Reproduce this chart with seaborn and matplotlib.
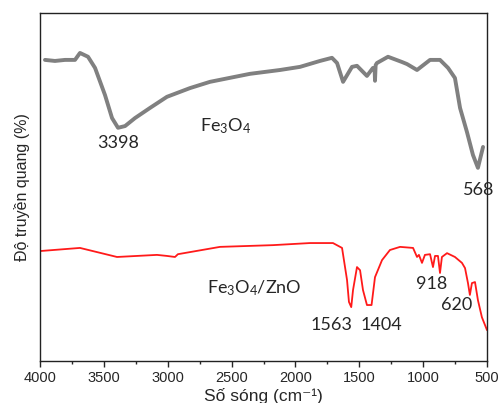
import matplotlib
matplotlib.use("Agg")
import matplotlib.pyplot as plt
from matplotlib.ticker import MultipleLocator
import pandas as pd
import seaborn as sns

# wavenumber (cm-1) and transmittance (arbitrary %)
fe3o4_wn = [3961, 3883, 3804, 3726, 3687, 3624, 3569, 3491, 3436, 3389, 3334, 3256,
            3139, 3006, 2826, 2669, 2356, 2121, 1964, 1808, 1714, 1674, 1627, 1557,
            1518, 1440, 1393, 1380, 1377, 1372, 1362, 1275, 1166, 1126, 1048, 946,
            868, 805, 751, 711, 657, 610, 571, 531]
fe3o4_t = [86.5, 86.2, 86.5, 86.5, 88.5, 87.4, 84.2, 76.4, 69.8, 67.0, 67.5, 69.8,
           72.7, 75.9, 78.4, 80.2, 82.5, 83.6, 84.5, 86.2, 87.1, 85.6, 80.2, 84.5,
           84.8, 81.9, 84.2, 84.0, 80.5, 85.0, 85.6, 87.4, 85.9, 85.3, 83.6, 86.5,
           86.5, 84.2, 81.3, 72.7, 65.8, 59.2, 55.5, 61.5]

zno_wn = [4000, 3687, 3397, 3084, 3006, 2943, 2920, 2591, 2176, 1886, 1706, 1635,
          1596, 1581, 1563, 1549, 1518, 1494, 1471, 1440, 1404, 1377, 1322, 1260,
          1181, 1079, 1048, 1033, 1009, 986, 946, 923, 907, 884, 868, 853, 813,
          751, 696, 672, 649, 634, 618, 594, 571, 540, 500]
zno_t = [31.6, 32.5, 29.9, 30.5, 30.2, 29.9, 30.7, 32.8, 33.3, 33.9, 33.9, 32.5,
         23.3, 17.0, 15.5, 20.4, 27.0, 26.1, 20.4, 16.1, 16.1, 24.1, 29.0, 31.9,
         32.8, 32.5, 29.9, 30.5, 28.2, 30.5, 30.7, 27.0, 30.2, 30.2, 25.3, 29.9,
         31.0, 29.9, 28.2, 26.7, 22.4, 19.0, 22.4, 22.7, 17.5, 12.6, 8.9]

peak_labels = ["3398", "568", "1563", "1404", "918", "620"]

df1 = pd.DataFrame({"wn": fe3o4_wn, "t": fe3o4_t})
df2 = pd.DataFrame({"wn": zno_wn, "t": zno_t})

sns.set_style("white")
plt.rcParams['font.family'] = ['Liberation Sans', 'DejaVu Sans']
plt.rcParams['mathtext.fontset'] = 'custom'
plt.rcParams['mathtext.rm'] = 'Lato'
plt.rcParams['mathtext.it'] = 'Lato:italic'

fig = plt.figure(figsize=(5, 4.03), dpi=100)
ax = fig.add_axes([0.08, 0.104, 0.894, 0.864])

sns.lineplot(data=df1, x="wn", y="t", color="#808080", lw=2.8, ax=ax, sort=False,
             solid_joinstyle='round', solid_capstyle='round')
sns.lineplot(data=df2, x="wn", y="t", color="#ff1a1a", lw=1.3, ax=ax, sort=False,
             solid_joinstyle='round')

ax.set_xlim(4000, 500)
ax.set_ylim(0, 100)
ax.xaxis.set_major_locator(MultipleLocator(500))
ax.xaxis.set_minor_locator(MultipleLocator(250))
ax.tick_params(axis='x', which='major', direction='out', length=4, width=1,
               bottom=True, labelsize=10.5, pad=3)
ax.tick_params(axis='x', which='minor', direction='out', length=2.5, width=1, bottom=True)
ax.set_yticks([])
for s in ax.spines.values():
    s.set_color('#222222')
    s.set_linewidth(1.0)

ax.set_xlabel("Số sóng (cm⁻¹)", fontsize=12.5, labelpad=2)
ax.set_ylabel("Độ truyền quang (%)", fontsize=11.5, labelpad=7)

lab = dict(fontsize=13, family='Lato', ha='center', va='center')
ax.text(3385, 62.5, peak_labels[0], **lab)
ax.text(568, 49, peak_labels[1], **lab)
ax.text(1720, 10.5, peak_labels[2], **lab)
ax.text(1330, 10.5, peak_labels[3], **lab)
ax.text(935, 22, peak_labels[4], **lab)
ax.text(735, 16, peak_labels[5], **lab)
ax.text(2550, 67.5, r"Fe$_3$O$_4$", **lab)
ax.text(2320, 21, r"Fe$_3$O$_4$/ZnO", **lab)

fig.savefig("out.png", dpi=100)
